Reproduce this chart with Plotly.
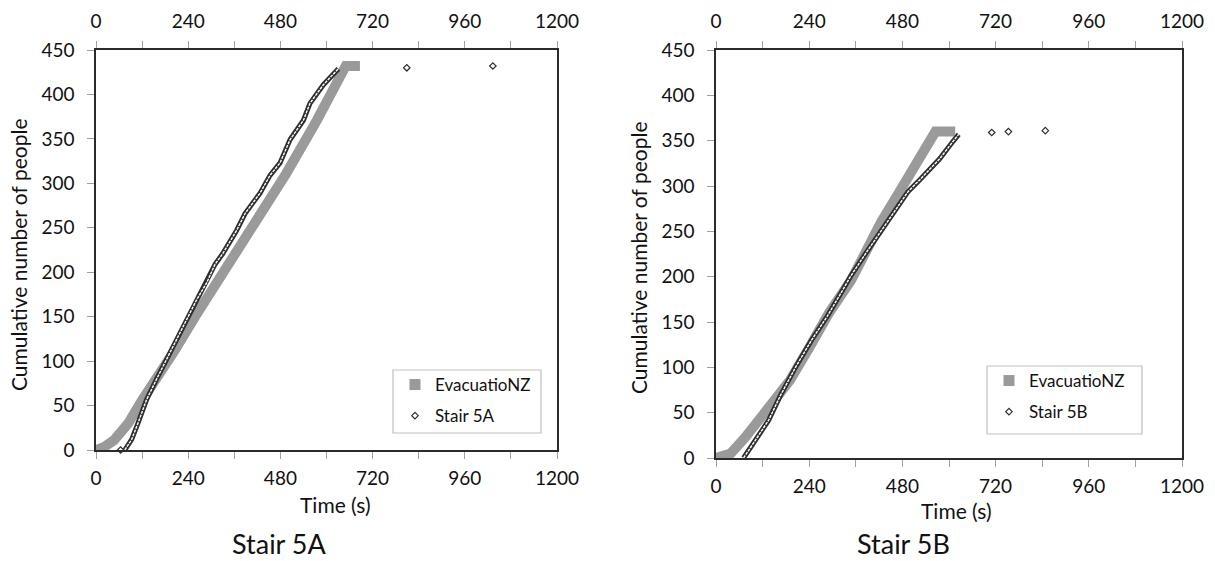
import plotly.graph_objects as go

W, H = 1215, 561
FONT = "Lato"

# ---------------- data ----------------
tick_vals_x = [0, 120, 240, 360, 480, 600, 720, 840, 960, 1080, 1200]
tick_text_x = ["0", "", "240", "", "480", "", "720", "", "960", "", "1200"]
tick_vals_y = [0, 50, 100, 150, 200, 250, 300, 350, 400, 450]

# Stair 5A panel
a_evac_t = [0, 20, 47, 84, 120, 158, 205, 258, 315, 365, 425, 495, 575, 635, 650, 687]
a_evac_n = [0, 3, 11, 30, 56, 79, 112, 150, 188, 220, 262, 311, 371, 420, 432, 432]
a_obs_t = [75, 93, 110, 132, 158, 184, 210, 236, 262, 288, 310, 330, 366, 388, 427, 453, 479, 505, 540, 557, 592, 631]
a_obs_n = [0, 12, 31, 57, 80, 102, 125, 147, 169, 188, 209, 221, 247, 266, 289, 309, 323, 349, 371, 390, 411, 429]
a_out_t = [64, 809, 1033]
a_out_n = [0, 430, 432]

# Stair 5B panel
b_evac_t = [0, 38, 76, 126, 191, 242, 291, 348, 385, 425, 470, 517, 555, 565, 616]
b_evac_n = [0, 5, 23, 49, 86, 123, 160, 196, 228, 260, 292, 326, 356, 360, 360]
b_obs_t = [71, 106, 136, 166, 206, 246, 286, 326, 346, 386, 426, 466, 495, 525, 576, 610, 625]
b_obs_n = [0, 23, 42, 69, 101, 130, 156, 185, 200, 226, 251, 275, 294, 307, 330, 349, 357]
b_out_t = [710, 753, 848]
b_out_n = [359, 360, 361]

GRAY = "#9a9a9a"
DARK = "#2e2e2e"

fig = go.Figure()


def add_panel(xa, ya, xtop, leg, evac_t, evac_n, obs_t, obs_n, out_t, out_n, name):
    # simulated band
    fig.add_trace(go.Scatter(x=evac_t, y=evac_n, mode="lines", xaxis=xa, yaxis=ya,
                             line=dict(color=GRAY, width=10), showlegend=False, hoverinfo="skip"))
    fig.add_trace(go.Scatter(x=[None], y=[None], mode="markers", xaxis=xa, yaxis=ya,
                             marker=dict(symbol="square", size=11, color=GRAY),
                             name="EvacuatioNZ", legend=leg, legendgroup=leg + "a"))
    # observed chain of hollow markers
    fig.add_trace(go.Scatter(x=obs_t, y=obs_n, mode="lines", xaxis=xa, yaxis=ya,
                             line=dict(color=DARK, width=5), showlegend=False, hoverinfo="skip"))
    fig.add_trace(go.Scatter(x=obs_t, y=obs_n, mode="lines", xaxis=xa, yaxis=ya,
                             line=dict(color="white", width=1.4, dash="3px,1px"), showlegend=False,
                             hoverinfo="skip"))
    fig.add_trace(go.Scatter(x=out_t, y=out_n, mode="markers", xaxis=xa, yaxis=ya, cliponaxis=False,
                             marker=dict(symbol="diamond-open", size=5, color=DARK, line=dict(width=1.2)),
                             name=name, legend=leg, legendgroup=leg + "b"))
    # top axis carrier
    fig.add_trace(go.Scatter(x=[None], y=[None], xaxis=xtop, yaxis=ya, showlegend=False, hoverinfo="skip"))


add_panel("x", "y", "x3", "legend", a_evac_t, a_evac_n, a_obs_t, a_obs_n, a_out_t, a_out_n, "Stair 5A")
add_panel("x2", "y2", "x4", "legend2", b_evac_t, b_evac_n, b_obs_t, b_obs_n, b_out_t, b_out_n, "Stair 5B")

axis_common = dict(showgrid=False, zeroline=False, showline=True, linecolor="#2b2b2b", linewidth=1.5,
                   ticks="outside", ticklen=7, tickcolor="#a0a0a0", tickwidth=1, automargin=False,
                   tickfont=dict(family=FONT, size=19, color="#111"))
xcommon = dict(axis_common, range=[0, 1200], tickmode="array", tickvals=tick_vals_x, ticktext=tick_text_x)
ycommon = dict(axis_common, range=[0, 450], tickmode="array", tickvals=tick_vals_y, ticklabelstandoff=9)

L = (96 / W, 557 / W)
R = (716 / W, 1182 / W)

leg_common = dict(xanchor="left", yanchor="top", bgcolor="rgba(0,0,0,0)", borderwidth=0,
                  font=dict(family=FONT, size=17, color="#111"), itemwidth=30,
                  traceorder="grouped", tracegroupgap=6)


def ann(text, x, y, size, angle=0):
    return dict(text=text, x=x / W, y=1 - y / H, xref="paper", yref="paper", showarrow=False,
                xanchor="center", yanchor="middle", textangle=angle,
                font=dict(family=FONT, size=size, color="#111"))


fig.update_layout(
    template="none",
    width=W, height=H, margin=dict(l=0, r=0, t=0, b=0, autoexpand=False),
    paper_bgcolor="white", plot_bgcolor="white",
    font=dict(family=FONT, size=18, color="#111"),
    xaxis=dict(xcommon, domain=list(L), anchor="y", mirror=True, ticklabelstandoff=3),
    xaxis3=dict(xcommon, overlaying="x", side="top", anchor="y", ticklabelstandoff=6),
    yaxis=dict(ycommon, domain=[1 - 450 / H, 1 - 50 / H], anchor="x", mirror=True),
    xaxis2=dict(xcommon, domain=list(R), anchor="y2", mirror=True, ticklabelstandoff=3),
    xaxis4=dict(xcommon, overlaying="x2", side="top", anchor="y2", ticklabelstandoff=6),
    yaxis2=dict(ycommon, domain=[1 - 458 / H, 1 - 50 / H], anchor="x2", mirror=True),
    legend=dict(leg_common, x=395 / W, y=1 - 367 / H),
    legend2=dict(leg_common, x=989 / W, y=1 - 363 / H),
    shapes=[
        dict(type="rect", xref="paper", yref="paper", x0=393 / W, x1=541 / W, y0=1 - 433 / H, y1=1 - 370 / H,
             line=dict(color="#bfbfbf", width=1.2), fillcolor="white", layer="below"),
        dict(type="rect", xref="paper", yref="paper", x0=987 / W, x1=1142 / W, y0=1 - 434 / H, y1=1 - 366 / H,
             line=dict(color="#bfbfbf", width=1.2), fillcolor="white", layer="below"),
    ],
    annotations=[
        ann("Time (s)", 335, 504, 21),
        ann("Time (s)", 956, 510, 21),
        ann("Stair 5A", 279, 543, 27),
        ann("Stair 5B", 903, 543, 27),
        ann("Cumulative number of people", 18, 255, 21, -90),
        ann("Cumulative number of people", 638, 258, 21, -90),
    ],
)

fig.write_html("out.html", config={"displayModeBar": False},
               post_script="document.body.style.margin='0';document.body.style.padding='0';")
